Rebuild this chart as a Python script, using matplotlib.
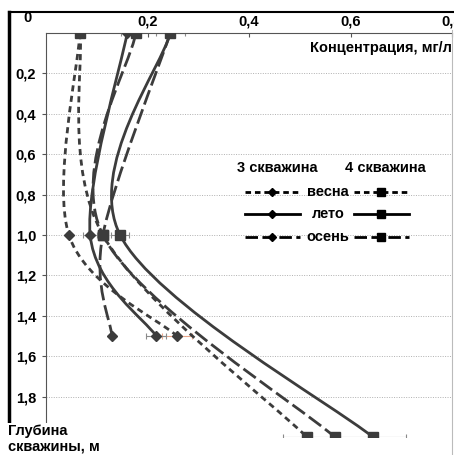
import matplotlib
matplotlib.use("Agg")
import matplotlib.pyplot as plt
from matplotlib.path import Path
from matplotlib.patches import PathPatch
from matplotlib.lines import Line2D
import numpy as np

plt.rcParams['font.family'] = ['Liberation Sans Narrow', 'Liberation Sans', 'DejaVu Sans']
plt.rcParams['font.weight'] = 'bold'

# глубины отбора проб
depth3 = [0.0, 1.0, 1.5]
depth4 = [0.0, 1.0, 2.0]

# концентрация, мг/л
w3_spring = [0.067, 0.045, 0.258]
w3_summer = [0.160, 0.087, 0.217]
w3_autumn = [0.245, 0.112, 0.130]
w4_spring = [0.067, 0.112, 0.514]
w4_summer = [0.245, 0.146, 0.644]
w4_autumn = [0.177, 0.112, 0.569]

# погрешности
e3_spring = [0.004, 0.0, 0.030]
e3_summer = [0.012, 0.014, 0.020]
e3_autumn = [0.0, 0.0, 0.0]
e4_spring = [0.004, 0.0, 0.047]
e4_summer = [0.028, 0.018, 0.065]
e4_autumn = [0.0, 0.010, 0.0]

xticks = [0.2, 0.4, 0.6, 0.8]
yticks = [0.2, 0.4, 0.6, 0.8, 1.0, 1.2, 1.4, 1.6, 1.8]

C = '#3c3c3c'
SHORT = (0, (2.2, 1.6))
LONG = (0, (5.5, 1.8))


def smooth_path(xs, ys):
    # сглаживание как в Excel (Catmull-Rom -> Безье)
    p = np.column_stack([xs, ys])
    n = len(p)
    verts = [p[0]]
    codes = [Path.MOVETO]
    for i in range(n - 1):
        prev = p[i - 1] if i > 0 else p[i]
        nxt = p[i + 2] if i + 2 < n else p[i + 1]
        c1 = p[i] + (p[i + 1] - prev) / 6
        c2 = p[i + 1] - (nxt - p[i]) / 6
        verts += [c1, c2, p[i + 1]]
        codes += [Path.CURVE4] * 3
    return Path(verts, codes)


W, H = 454, 455
fig = plt.figure(figsize=(W / 100, H / 100), dpi=100)
ax = fig.add_axes([46 / W, 1 - 437 / H, 406 / W, 404 / H])
ax.set_xlim(0, 0.8)
ax.set_ylim(2.0, 0)

for y in yticks + [2.0]:
    ax.axhline(y, color='#b0b0b0', lw=0.7, ls=(0, (1, 1.5)), zorder=0)

series = [
    (w3_spring, depth3, e3_spring, SHORT, 'D'),
    (w3_summer, depth3, e3_summer, '-', 'D'),
    (w3_autumn, depth3, e3_autumn, LONG, 'D'),
    (w4_spring, depth4, e4_spring, SHORT, 's'),
    (w4_summer, depth4, e4_summer, '-', 's'),
    (w4_autumn, depth4, e4_autumn, LONG, 's'),
]
for xs, ys, err, ls, mk in series:
    ecol = '#e8a488' if (mk == 'D' and ls == SHORT) else '#8a8a8a'
    ax.errorbar(xs, ys, xerr=err, fmt='none', ecolor=ecol, elinewidth=0.8,
                capsize=2.5, capthick=0.8, zorder=2)
    ax.add_patch(PathPatch(smooth_path(xs, ys), fill=False, edgecolor=C,
                           lw=2.0, ls=ls, zorder=3))
    ax.plot(xs, ys, ls='none', marker=mk, color=C,
            markersize=5 if mk == 'D' else 7, zorder=4)

ax.spines['right'].set_visible(False)
ax.spines['bottom'].set_visible(False)
ax.spines['top'].set_color('#555555')
ax.spines['left'].set_color('#555555')
ax.spines['left'].set_bounds(2.0, 0)

ax.xaxis.tick_top()
ax.set_xticks(xticks)
ax.set_xticklabels([f'{v:.1f}'.replace('.', ',') for v in xticks])
ax.set_yticks(yticks)
ax.set_yticklabels([f'{v:.1f}'.replace('.', ',') for v in yticks])
ax.tick_params(axis='x', direction='in', length=3, pad=3, labelsize=10.5, color='#555555')
ax.tick_params(axis='y', direction='out', length=3, pad=4, labelsize=10.5, color='#555555')
fig.text(28 / W, 1 - 18 / H, '0', ha='center', va='center', fontsize=10.5, fontweight='bold')

fig.text(381 / W, 1 - 48 / H, 'Концентрация, мг/л', ha='center', va='center',
         fontsize=10.5, fontweight='bold')
fig.text(8 / W, 1 - 439 / H, 'Глубина\nскважины, м', ha='left', va='center',
         fontsize=10.5, fontweight='bold', linespacing=1.1,
         bbox=dict(facecolor='white', edgecolor='none', pad=1))

# легенда
def fx(x):
    return x / W


def fy(y):
    return 1 - y / H


fig.text(fx(277), fy(168), '3 скважина', ha='center', va='center', fontsize=10.5, fontweight='bold')
fig.text(fx(385), fy(168), '4 скважина', ha='center', va='center', fontsize=10.5, fontweight='bold')
rows = [('весна', 192, (0, (2.0, 1.4))), ('лето', 214, '-'), ('осень', 237, (0, (4.5, 1.6)))]
for name, y, ls in rows:
    fig.add_artist(Line2D([fx(245), fx(300)], [fy(y)] * 2, color='black', lw=2, ls=ls))
    fig.add_artist(Line2D([fx(272)], [fy(y)], marker='D', color='black', markersize=4.5, ls='none'))
    fig.add_artist(Line2D([fx(354), fx(409)], [fy(y)] * 2, color='black', lw=2, ls=ls))
    fig.add_artist(Line2D([fx(381)], [fy(y)], marker='s', color='black', markersize=6, ls='none'))
    fig.text(fx(328), fy(y), name, ha='center', va='center', fontsize=10.5, fontweight='bold')

# рамка
fig.add_artist(Line2D([fx(9), fx(9)], [fy(12), fy(428)], color='black', lw=2.5))
fig.add_artist(Line2D([fx(9), fx(454)], [fy(12), fy(12)], color='black', lw=1.5))
fig.add_artist(Line2D([fx(452), fx(452)], [fy(30), fy(455)], color='#bbbbbb', lw=0.8))

fig.savefig('out.png', dpi=100)
